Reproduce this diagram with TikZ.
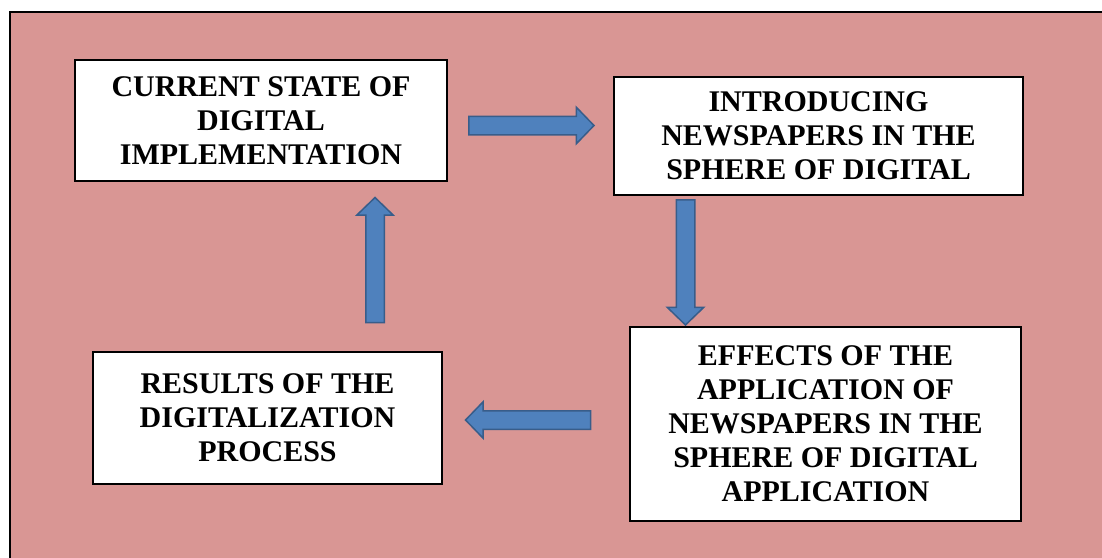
\documentclass[tikz,border=0pt]{standalone}
\usepackage{fontspec}
\setmainfont{Liberation Serif}
\usetikzlibrary{shapes.arrows}

\definecolor{bgpink}{HTML}{D99694}
\definecolor{arrfill}{HTML}{4F81BD}
\definecolor{arrline}{HTML}{385D8A}

\begin{document}
\begin{tikzpicture}[x=1pt, y=-1pt,
		box/.style={draw, line width=2pt, fill=white, align=center, inner sep=0pt,
			font=\fontsize{30}{34}\selectfont\bfseries},
		blk/.style={single arrow, draw=arrline, line width=1.5pt, fill=arrfill,
			inner xsep=0pt, inner ysep=8.5pt, single arrow head extend=9pt,
			single arrow tip angle=92, minimum height=125pt}]
			\clip (0,0) rectangle (1102,557);
			\fill[white] (0,0) rectangle (1102,557);
			\draw[fill=bgpink, line width=2pt] (10,12) rectangle (1120,580);
			
			\node[box, minimum width=372pt, minimum height=121pt] (1) at (261,120.5) {CURRENT STATE OF\\DIGITAL\\IMPLEMENTATION};
			\node[box, minimum width=409pt, minimum height=118pt] (2) at (818.5,136) {INTRODUCING\\NEWSPAPERS IN THE\\SPHERE OF DIGITAL};
			\node[box, minimum width=391pt, minimum height=194pt] (3) at (825.5,424) {EFFECTS OF THE\\APPLICATION OF\\NEWSPAPERS IN THE\\SPHERE OF DIGITAL\\APPLICATION};
			\node[box, minimum width=349pt, minimum height=132pt] (4) at (267.5,418) {RESULTS OF THE\\DIGITALIZATION\\PROCESS};
			
			\node[blk] (12) at (527,125.5) {};
			\node[blk, rotate=-90] (23) at (685.5,258) {};
			\node[blk, rotate=180] (34) at (532.5,420) {};
			\node[blk, rotate=90] (41) at (375,264.5) {};
		\end{tikzpicture}
\end{document}
